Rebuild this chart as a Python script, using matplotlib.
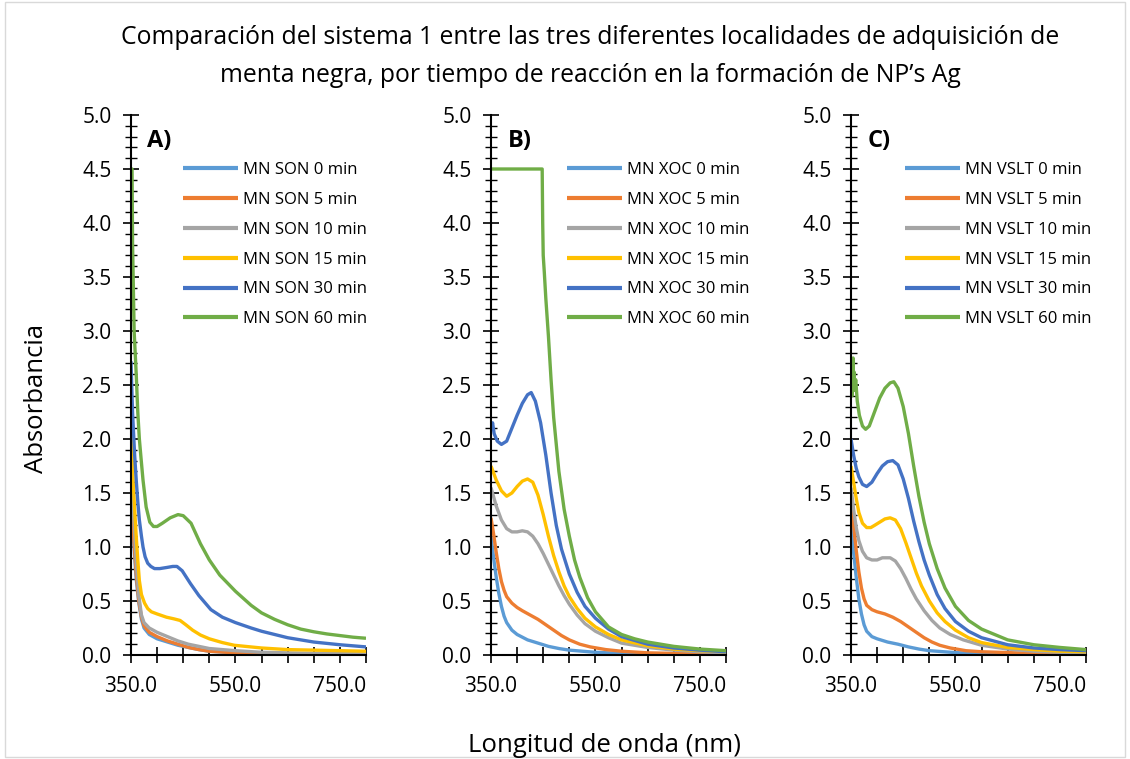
import matplotlib.pyplot as plt
from matplotlib.patches import Rectangle

plt.rcParams['font.family'] = ['Open Sans', 'DejaVu Sans']

# Excel palette used for the six reaction times
colors = ["#5B9BD5", "#ED7D31", "#A5A5A5", "#FFC000", "#4472C4", "#70AD47"]
times = ["0 min", "5 min", "10 min", "15 min", "30 min", "60 min"]

# ---- Panel A: MN SON (wavelength, absorbance) ----
son_0_x = [350, 355, 360, 365, 370, 375, 385, 400, 420, 440, 460, 480, 500, 550, 600, 800]
son_0_y = [1.5, 1.05, 0.7, 0.48, 0.33, 0.25, 0.19, 0.15, 0.12, 0.09, 0.07, 0.05, 0.035, 0.02, 0.01, 0.005]
son_5_x = [350, 355, 360, 365, 370, 375, 385, 400, 420, 440, 460, 480, 500, 550, 600, 800]
son_5_y = [1.6, 1.1, 0.75, 0.5, 0.35, 0.27, 0.21, 0.17, 0.13, 0.10, 0.07, 0.05, 0.035, 0.02, 0.01, 0.005]
son_10_x = [350, 355, 360, 365, 370, 375, 385, 400, 420, 440, 460, 480, 500, 550, 600, 700, 800]
son_10_y = [1.84, 1.3, 0.85, 0.55, 0.37, 0.3, 0.25, 0.21, 0.17, 0.13, 0.1, 0.08, 0.06, 0.04, 0.025, 0.015, 0.01]
son_15_x = [350, 353, 357, 360, 363, 366, 370, 376, 382, 389, 400, 418, 432, 444, 455, 468, 483, 500, 525, 548, 600, 650, 700, 750, 800]
son_15_y = [2.11, 1.71, 1.35, 1.1, 0.88, 0.69, 0.56, 0.48, 0.43, 0.40, 0.38, 0.35, 0.335, 0.32, 0.28, 0.23, 0.185, 0.15, 0.115, 0.09, 0.065, 0.05, 0.045, 0.04, 0.035]
son_30_x = [350, 353, 357, 360, 363, 366, 370, 373, 377, 382, 388, 395, 405, 418, 430, 438, 448, 464, 480, 503, 525, 550, 580, 600, 650, 700, 750, 800]
son_30_y = [2.72, 2.24, 1.85, 1.62, 1.42, 1.25, 1.1, 1.0, 0.91, 0.85, 0.82, 0.80, 0.80, 0.81, 0.82, 0.82, 0.78, 0.66, 0.55, 0.42, 0.35, 0.30, 0.25, 0.22, 0.16, 0.12, 0.095, 0.075]
son_60_x = [350, 352, 353, 356, 360, 363, 366, 370, 373, 379, 386, 393, 400, 410, 425, 440, 450, 465, 483, 500, 520, 550, 580, 600, 625, 650, 675, 700, 725, 750, 775, 800]
son_60_y = [4.5, 4.5, 3.8, 3.0, 2.6, 2.25, 2.0, 1.78, 1.62, 1.37, 1.23, 1.19, 1.19, 1.22, 1.27, 1.30, 1.29, 1.22, 1.03, 0.88, 0.74, 0.59, 0.46, 0.39, 0.33, 0.28, 0.24, 0.215, 0.195, 0.18, 0.165, 0.155]

# ---- Panel B: MN XOC ----
xoc_0_x = [350, 355, 360, 365, 370, 375, 380, 390, 400, 420, 440, 460, 480, 500, 550, 600, 700, 800]
xoc_0_y = [1.1, 0.9, 0.72, 0.57, 0.45, 0.36, 0.30, 0.23, 0.19, 0.14, 0.11, 0.08, 0.06, 0.045, 0.025, 0.015, 0.008, 0.005]
xoc_5_x = [350, 355, 360, 365, 370, 375, 380, 390, 400, 410, 425, 440, 455, 470, 485, 500, 520, 540, 570, 600, 650, 700, 800]
xoc_5_y = [1.27, 1.12, 0.95, 0.8, 0.68, 0.6, 0.54, 0.48, 0.44, 0.41, 0.37, 0.33, 0.28, 0.23, 0.18, 0.14, 0.1, 0.075, 0.05, 0.035, 0.02, 0.015, 0.01]
xoc_10_x = [350, 360, 370, 380, 390, 400, 410, 420, 430, 440, 450, 460, 470, 480, 490, 500, 515, 530, 550, 575, 600, 650, 700, 750, 800]
xoc_10_y = [1.55, 1.38, 1.25, 1.17, 1.14, 1.14, 1.15, 1.14, 1.1, 1.03, 0.94, 0.84, 0.74, 0.64, 0.55, 0.47, 0.37, 0.29, 0.22, 0.16, 0.11, 0.07, 0.045, 0.03, 0.02]
xoc_15_x = [350, 360, 370, 380, 390, 400, 410, 420, 430, 440, 450, 460, 470, 480, 490, 500, 515, 530, 550, 575, 600, 650, 700, 750, 800]
xoc_15_y = [1.75, 1.62, 1.52, 1.47, 1.50, 1.56, 1.61, 1.63, 1.6, 1.48, 1.3, 1.1, 0.92, 0.77, 0.64, 0.54, 0.43, 0.34, 0.26, 0.19, 0.14, 0.085, 0.055, 0.04, 0.03]
xoc_30_x = [350, 353, 356, 362, 370, 380, 390, 400, 410, 420, 427, 435, 445, 455, 465, 475, 485, 500, 515, 530, 550, 575, 600, 650, 700, 750, 800]
xoc_30_y = [2.08, 2.15, 2.05, 1.98, 1.95, 1.98, 2.1, 2.22, 2.33, 2.41, 2.43, 2.35, 2.15, 1.85, 1.5, 1.2, 0.98, 0.75, 0.58, 0.45, 0.34, 0.24, 0.17, 0.10, 0.065, 0.045, 0.03]
xoc_60_x = [350, 448, 449, 450, 452, 455, 460, 465, 470, 475, 480, 490, 500, 510, 520, 535, 550, 575, 600, 625, 650, 700, 750, 800]
xoc_60_y = [4.5, 4.5, 4.0, 3.7, 3.55, 3.3, 2.95, 2.55, 2.2, 1.95, 1.7, 1.35, 1.1, 0.88, 0.72, 0.53, 0.40, 0.26, 0.19, 0.15, 0.12, 0.08, 0.055, 0.04]

# ---- Panel C: MN VSLT ----
vslt_0_x = [350, 355, 360, 365, 370, 375, 380, 390, 400, 420, 440, 460, 480, 500, 550, 600, 700, 800]
vslt_0_y = [1.2, 0.95, 0.72, 0.52, 0.38, 0.28, 0.22, 0.17, 0.15, 0.12, 0.1, 0.075, 0.055, 0.04, 0.022, 0.013, 0.007, 0.005]
vslt_5_x = [350, 355, 360, 365, 370, 375, 380, 390, 400, 415, 430, 445, 460, 475, 490, 505, 520, 540, 570, 600, 700, 800]
vslt_5_y = [1.42, 1.2, 0.97, 0.77, 0.62, 0.52, 0.46, 0.42, 0.40, 0.38, 0.35, 0.31, 0.26, 0.21, 0.16, 0.12, 0.09, 0.065, 0.04, 0.03, 0.015, 0.01]
vslt_10_x = [350, 355, 360, 365, 372, 380, 390, 400, 410, 425, 435, 445, 455, 465, 475, 490, 505, 520, 540, 565, 600, 650, 700, 750, 800]
vslt_10_y = [1.55, 1.35, 1.18, 1.06, 0.96, 0.9, 0.88, 0.88, 0.9, 0.9, 0.87, 0.8, 0.71, 0.61, 0.52, 0.41, 0.32, 0.25, 0.19, 0.14, 0.09, 0.055, 0.035, 0.025, 0.02]
vslt_15_x = [350, 355, 360, 365, 372, 380, 388, 395, 405, 415, 425, 435, 445, 455, 465, 475, 485, 500, 515, 530, 550, 575, 600, 650, 700, 750, 800]
vslt_15_y = [1.75, 1.6, 1.45, 1.32, 1.22, 1.18, 1.18, 1.2, 1.23, 1.26, 1.27, 1.25, 1.17, 1.04, 0.9, 0.76, 0.64, 0.5, 0.39, 0.31, 0.23, 0.16, 0.115, 0.07, 0.05, 0.035, 0.03]
vslt_30_x = [350, 355, 360, 365, 372, 380, 390, 400, 410, 420, 430, 440, 450, 460, 470, 480, 490, 500, 515, 530, 550, 575, 600, 650, 700, 750, 800]
vslt_30_y = [2.0, 1.85, 1.73, 1.65, 1.58, 1.56, 1.6, 1.68, 1.75, 1.79, 1.8, 1.76, 1.63, 1.45, 1.24, 1.05, 0.88, 0.74, 0.56, 0.43, 0.31, 0.22, 0.16, 0.095, 0.065, 0.05, 0.04]
vslt_60_x = [350, 351, 352, 353, 354, 355, 356, 357, 359, 362, 366, 372, 378, 385, 395, 405, 415, 425, 432, 440, 450, 460, 470, 480, 490, 500, 515, 530, 550, 575, 600, 650, 700, 750, 800]
vslt_60_y = [2.45, 2.6, 2.4, 2.7, 2.75, 2.5, 2.62, 2.45, 2.55, 2.35, 2.22, 2.12, 2.09, 2.12, 2.25, 2.38, 2.47, 2.52, 2.53, 2.47, 2.3, 2.05, 1.75, 1.47, 1.23, 1.03, 0.8, 0.62, 0.45, 0.32, 0.24, 0.14, 0.095, 0.07, 0.05]

panels = [
    ("A)", "MN SON", [(son_0_x, son_0_y), (son_5_x, son_5_y), (son_10_x, son_10_y),
                      (son_15_x, son_15_y), (son_30_x, son_30_y), (son_60_x, son_60_y)]),
    ("B)", "MN XOC", [(xoc_0_x, xoc_0_y), (xoc_5_x, xoc_5_y), (xoc_10_x, xoc_10_y),
                      (xoc_15_x, xoc_15_y), (xoc_30_x, xoc_30_y), (xoc_60_x, xoc_60_y)]),
    ("C)", "MN VSLT", [(vslt_0_x, vslt_0_y), (vslt_5_x, vslt_5_y), (vslt_10_x, vslt_10_y),
                       (vslt_15_x, vslt_15_y), (vslt_30_x, vslt_30_y), (vslt_60_x, vslt_60_y)]),
]

W, H = 1130, 759
fig = plt.figure(figsize=(W / 100, H / 100), dpi=100)

# light chart-area border
fig.patches.append(Rectangle((0.004, 0.002), 0.992, 0.996, transform=fig.transFigure,
                             fill=False, edgecolor="#D9D9D9", linewidth=1))

lefts = [131, 491, 851]
legend_x = [183, 567, 905]
for left, lx, (tag, name, series) in zip(lefts, legend_x, panels):
    ax = fig.add_axes([left / W, (H - 655) / H, 235 / W, 540 / H])
    for (x, y), c, t in zip(series, colors, times):
        ax.plot(x, y, color=c, linewidth=2.4, label=f"{name} {t}", solid_capstyle="butt",
                solid_joinstyle="round")

    ax.set_xlim(350, 800)
    ax.set_ylim(0, 5)
    ax.set_xticks([350, 550, 750])
    ax.set_xticks(range(350, 801, 50), minor=True)
    ax.set_xticklabels(["350.0", "550.0", "750.0"])
    ax.set_yticks([i * 0.5 for i in range(11)])
    ax.set_yticks([i * 0.1 for i in range(51)], minor=True)
    ax.set_yticklabels([f"{i * 0.5:.1f}" for i in range(11)])
    ax.tick_params(axis="both", which="both", direction="inout", labelsize=15, color="black")
    ax.tick_params(axis="y", which="major", length=12, width=1.2, pad=8)
    ax.tick_params(axis="y", which="minor", length=8, width=1)
    ax.tick_params(axis="x", which="both", length=12, width=1.2, pad=9)
    for s in ["top", "right"]:
        ax.spines[s].set_visible(False)
    for s in ["left", "bottom"]:
        ax.spines[s].set_linewidth(1.5)
    ax.patch.set_alpha(0)

    ax.text(0.07, 0.975, tag, transform=ax.transAxes, fontsize=17, fontweight="bold",
            va="top", ha="left")

    leg = ax.legend(loc="upper left", bbox_to_anchor=(lx / W, (H - 162) / H),
                    bbox_transform=fig.transFigure, frameon=False, fontsize=12,
                    handlelength=3.3, handletextpad=0.3, labelspacing=0.83,
                    borderpad=0, borderaxespad=0)
    for line in leg.get_lines():
        line.set_linewidth(3)

fig.text(590 / W, 1 - 38 / H, "Comparación del sistema 1 entre las tres diferentes localidades de adquisición de",
         ha="center", va="center", fontsize=17.8)
fig.text(590 / W, 1 - 75 / H, "menta negra, por tiempo de reacción en la formación de NP’s Ag",
         ha="center", va="center", fontsize=17.8)
fig.text(37 / W, 1 - 398 / H, "Absorbancia", rotation=90, ha="center", va="center", fontsize=18.5)
fig.text(604 / W, 1 - 745 / H, "Longitud de onda (nm)", ha="center", va="center", fontsize=18.5)

fig.savefig("out.png", dpi=100)
